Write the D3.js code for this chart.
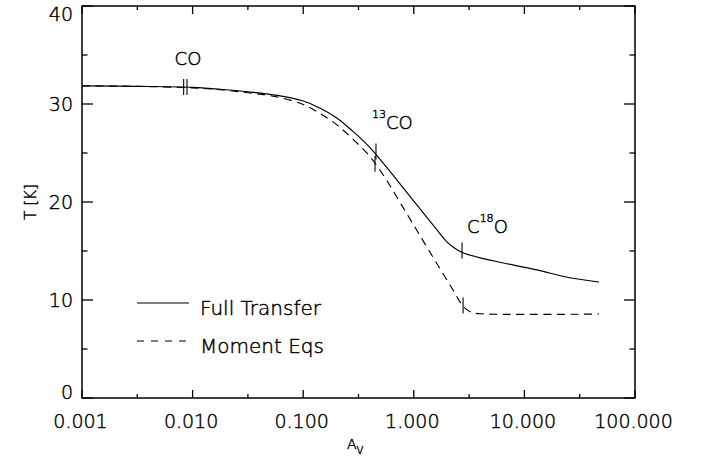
<!DOCTYPE html>
<html><head><meta charset="utf-8">
<script src="https://cdn.jsdelivr.net/npm/d3@7"></script>
<style>body{margin:0;background:#fff}svg{display:block}text{font-family:"DejaVu Sans",sans-serif;font-weight:200;fill:#000;stroke:#000;stroke-width:0.45px}</style>
</head><body>
<script>
// ---- data ----
const avFull = [0.001, 0.00316, 0.01, 0.0178, 0.0316, 0.0562, 0.1, 0.141, 0.2, 0.282, 0.398, 0.562, 0.794, 1.12, 1.58, 2.0, 2.4, 2.82, 3.98, 6.31, 12.6, 25.1, 47.3];
const tFull  = [31.85, 31.8, 31.7, 31.5, 31.25, 30.9, 30.3, 29.6, 28.6, 27.2, 25.6, 23.6, 21.5, 19.4, 17.3, 15.9, 15.2, 14.8, 14.3, 13.8, 13.1, 12.3, 11.84];
const avMom  = [0.001, 0.00316, 0.01, 0.0178, 0.0316, 0.0562, 0.1, 0.141, 0.2, 0.282, 0.398, 0.562, 0.794, 1.12, 1.58, 2.24, 2.82, 3.31, 3.98, 47.3];
const tMom   = [31.85, 31.8, 31.65, 31.45, 31.15, 30.75, 29.95, 29.05, 27.9, 26.4, 24.7, 22.3, 19.5, 16.7, 13.9, 11.1, 9.3, 8.75, 8.6, 8.57];
const markAvFull = [0.0089, 0.455, 2.73];
const markTFull  = [31.73, 25.15, 15.05];
const markAvMom  = [0.0083, 0.446, 2.79];
const markTMom   = [31.73, 23.9, 9.44];
const xTickVals = [0.001, 0.01, 0.1, 1, 10, 100];
const xTickLabels = ["0.001", "0.010", "0.100", "1.000", "10.000", "100.000"];
const yTickVals = [0, 10, 20, 30, 40];
const yTickLabels = ["0", "10", "20", "30", "40"];
const yMinor = [5, 15, 25, 35];
const lineLabels = [
  {pre: "", sup: "", post: "CO", av: 0.00908, t: 34.0, anchor: "middle"},
  {pre: "", sup: "13", post: "CO", av: 0.419, t: 27.45, anchor: "start"},
  {pre: "C", sup: "18", post: "O", av: 3.03, t: 16.84, anchor: "start"}
];
const legendNames = ["Full Transfer", "Moment Eqs"];

// ---- layout ----
const W = 702, H = 461;
const L = 82, R = 635, T = 6, B = 398;
const svg = d3.select("body").append("svg").attr("width", W).attr("height", H);
const x = d3.scaleLog().domain([0.001, 100]).range([L, R]);
const y = d3.scaleLinear().domain([0, 40]).range([B, T]);
const lw = 1.15;

// frame
svg.append("rect").attr("x", L).attr("y", T).attr("width", R - L).attr("height", B - T)
  .attr("fill", "none").attr("stroke", "#000").attr("stroke-width", 1.5);

// ticks
const xMinor = d3.range(-3, 2).map(k => Math.pow(10, k + 0.5));
const g = svg.append("g").attr("stroke", "#000").attr("stroke-width", 1.3);
xTickVals.forEach(v => {
  g.append("line").attr("x1", x(v)).attr("x2", x(v)).attr("y1", B).attr("y2", B - 8);
  g.append("line").attr("x1", x(v)).attr("x2", x(v)).attr("y1", T).attr("y2", T + 8);
});
xMinor.forEach(v => {
  g.append("line").attr("x1", x(v)).attr("x2", x(v)).attr("y1", B).attr("y2", B - 4);
  g.append("line").attr("x1", x(v)).attr("x2", x(v)).attr("y1", T).attr("y2", T + 4);
});
yTickVals.forEach(v => {
  g.append("line").attr("x1", L).attr("x2", L + 11).attr("y1", y(v)).attr("y2", y(v));
  g.append("line").attr("x1", R).attr("x2", R - 11).attr("y1", y(v)).attr("y2", y(v));
});
yMinor.forEach(v => {
  g.append("line").attr("x1", L).attr("x2", L + 5.5).attr("y1", y(v)).attr("y2", y(v));
  g.append("line").attr("x1", R).attr("x2", R - 5.5).attr("y1", y(v)).attr("y2", y(v));
});

// tick labels
xTickVals.forEach((v, i) => {
  svg.append("text").attr("x", x(v) - 1.5).attr("y", 428).attr("text-anchor", "middle")
    .attr("font-size", 19).text(xTickLabels[i]);
});
yTickVals.forEach((v, i) => {
  const cy = Math.min(Math.max(y(v), 14), 392);
  svg.append("text").attr("x", 73).attr("y", cy).attr("dy", "0.36em").attr("text-anchor", "end")
    .attr("font-size", 19).text(yTickLabels[i]);
});

// axis titles
const xt = svg.append("text").attr("x", 347).attr("y", 449).attr("font-size", 14);
xt.append("tspan").text("A");
xt.append("tspan").attr("font-size", 10).attr("dy", 5).text("V");
svg.append("text").attr("transform", "translate(36,202) rotate(-90)").attr("text-anchor", "middle")
  .attr("font-size", 15).text("T [K]");

// curves
const line = d3.line().x(d => x(d[0])).y(d => y(d[1])).curve(d3.curveCatmullRom.alpha(0.5));
svg.append("path").datum(avFull.map((a, i) => [a, tFull[i]])).attr("d", line)
  .attr("fill", "none").attr("stroke", "#000").attr("stroke-width", lw);
svg.append("path").datum(avMom.map((a, i) => [a, tMom[i]])).attr("d", line)
  .attr("fill", "none").attr("stroke", "#000").attr("stroke-width", lw).attr("stroke-dasharray", "8,5.5");

// markers
function marks(avs, ts) {
  avs.forEach((a, i) => {
    svg.append("line").attr("x1", x(a)).attr("x2", x(a)).attr("y1", y(ts[i]) - 8).attr("y2", y(ts[i]) + 8)
      .attr("stroke", "#000").attr("stroke-width", 1.1);
  });
}
marks(markAvFull, markTFull);
marks(markAvMom, markTMom);

// line labels
lineLabels.forEach(d => {
  const t = svg.append("text").attr("x", x(d.av)).attr("y", y(d.t)).attr("font-size", 18)
    .attr("text-anchor", d.anchor);
  if (d.pre) t.append("tspan").text(d.pre);
  if (d.sup) t.append("tspan").attr("font-size", 11).attr("dy", -11).text(d.sup);
  t.append("tspan").attr("dy", d.sup ? 11 : 0).text(d.post);
});

// legend
legendNames.forEach((name, i) => {
  const ly = 303 + i * 38;
  svg.append("line").attr("x1", 137).attr("x2", 189).attr("y1", ly).attr("y2", ly)
    .attr("stroke", "#000").attr("stroke-width", lw).attr("stroke-dasharray", i ? "7,7" : null);
  svg.append("text").attr("x", 200).attr("y", ly + 12).attr("font-size", 20).text(name);
});
</script>
</body></html>
